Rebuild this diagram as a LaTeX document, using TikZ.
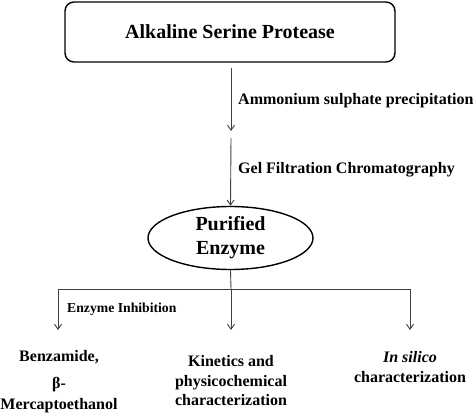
\documentclass[tikz,border=0pt]{standalone}
\usepackage{fontspec}
\setmainfont{Liberation Serif}
\usetikzlibrary{shapes.geometric,arrows.meta}
\begin{document}
\begin{tikzpicture}[x=1pt,y=-1pt,
  conn/.style={draw=black!75,line width=0.9pt},
  arr/.style={conn,-{Straight Barb[length=5pt,width=7pt]}},
  lbl/.style={font=\bfseries\fontsize{16}{18}\selectfont,anchor=base west,inner sep=0pt},
  outtxt/.style={font=\bfseries\fontsize{16}{19.5}\selectfont,align=center,inner sep=0pt}]
\useasboundingbox (0,0) rectangle (474,418);
\node[draw,line width=1.4pt,rounded corners=9pt,minimum width=330pt,minimum height=60pt,
  font=\bfseries\fontsize{20}{22}\selectfont] (top) at (230,32) {Alkaline Serine Protease};
\coordinate (m1) at (231,131);
\coordinate (m2) at (231,138);
\draw[arr] (231,68) -- (m1);
\node[lbl] (l1) at (238,104) {Ammonium sulphate precipitation};
\node[draw,ellipse,line width=1.4pt,minimum width=165pt,minimum height=63pt,inner sep=0pt,
  align=center,font=\bfseries\fontsize{20}{24}\selectfont] (enz) at (230.5,238) {Purified\\Enzyme};
\draw[arr] (m2) -- (enz.north);
\node[lbl] (l2) at (238,173) {Gel Filtration Chromatography};
\coordinate (j) at (231,289);
\coordinate (jl) at (58,289);
\coordinate (jr) at (410,289);
\draw[conn] (enz.south) -- (j);
\draw[conn] (jl) -- (jr);
\node[outtxt,font=\bfseries\fontsize{16}{21}\selectfont] (b1) at (59,382) {Benzamide,\\[6pt]β-\\Mercaptoethanol};
\node[outtxt] (b2) at (231,381) {Kinetics and\\physicochemical\\characterization};
\node[outtxt,font=\bfseries\fontsize{16}{20}\selectfont] (b3) at (410,367) {\textit{In silico}\\characterization};
\draw[arr] (jl) -- (58,330);
\draw[arr] (j) -- (231,330);
\draw[arr] (jr) -- (410,330);
\node[font=\bfseries\fontsize{13.7}{15}\selectfont,anchor=base west,inner sep=0pt] (ei) at (67,312) {Enzyme Inhibition};
\end{tikzpicture}
\end{document}
